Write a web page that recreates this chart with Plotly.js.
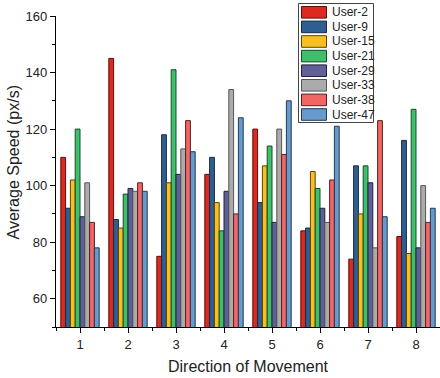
<!DOCTYPE html>
<html>
<head>
<meta charset="utf-8">
<script src="https://cdn.plot.ly/plotly-3.0.1.min.js"></script>
<style>html,body{margin:0;padding:0;background:#fff;}#chart{width:440px;height:378px;}</style>
</head>
<body>
<div id="chart"></div>
<script>
const directions = [1, 2, 3, 4, 5, 6, 7, 8];
const users = ["User-2", "User-9", "User-15", "User-21", "User-29", "User-33", "User-38", "User-47"];
const user2  = [110, 145, 75, 104, 120, 84, 74, 82];
const user9  = [92, 88, 118, 110, 94, 85, 107, 116];
const user15 = [102, 85, 101, 94, 107, 105, 90, 76];
const user21 = [120, 97, 141, 84, 114, 99, 107, 127];
const user29 = [89, 99, 104, 98, 87, 92, 101, 78];
const user33 = [101, 98, 113, 134, 120, 87, 78, 100];
const user38 = [87, 101, 123, 90, 111, 102, 123, 87];
const user47 = [78, 98, 112, 124, 130, 121, 89, 92];
const seriesValues = [user2, user9, user15, user21, user29, user33, user38, user47];
const fillColors = ["#dc2a20", "#2f5f92", "#f8bf22", "#3fbf6c", "#605f98", "#ababab", "#f26565", "#6699cc"];
const lineColors = ["#5a1010", "#152a42", "#5a4508", "#154a28", "#22223a", "#555555", "#5a2020", "#223a55"];

const traces = users.map((name, i) => ({
  type: "bar",
  name: name,
  x: directions,
  y: seriesValues[i],
  marker: {color: fillColors[i], line: {color: lineColors[i], width: 1}},
  showlegend: false,
  hoverinfo: "x+y+name"
}));

const FONT = "Liberation Sans, Arial, sans-serif";
const shapes = [];
const annotations = [];
const W = 440, H = 378, L = 56, R = 0, T = 16, B = 51;
const pw = W - L - R, ph = H - T - B;
function px2x(px) { return (px - L) / pw; }
function py2y(py) { return 1 - (py - T) / ph; }

// boxed legend with wide swatches
shapes.push({type: "rect", xref: "paper", yref: "paper",
  x0: px2x(298.5), x1: px2x(373.5), y0: py2y(122.5), y1: py2y(3.5),
  line: {color: "#444", width: 1}, fillcolor: "#fff", layer: "above"});
users.forEach((name, i) => {
  const cy = 12.3 + i * 14.6;
  shapes.push({type: "rect", xref: "paper", yref: "paper",
    x0: px2x(301.5), x1: px2x(326.5), y0: py2y(cy + 5.8), y1: py2y(cy - 5.8),
    fillcolor: fillColors[i], line: {color: lineColors[i], width: 1}, layer: "above"});
  annotations.push({xref: "paper", yref: "paper", x: px2x(329.5), y: py2y(cy),
    xanchor: "left", yanchor: "middle", text: name, showarrow: false,
    font: {family: FONT, size: 12, color: "#222"}});
});

// axis titles
annotations.push({xref: "paper", yref: "paper", x: px2x(248.5), y: py2y(366),
  xanchor: "center", yanchor: "middle", text: "Direction of Movement", showarrow: false,
  font: {family: FONT, size: 16, color: "#222"}});
annotations.push({xref: "paper", yref: "paper", x: px2x(13.5), y: py2y(163),
  xanchor: "center", yanchor: "middle", textangle: -90, text: "Average Speed (px/s)", showarrow: false,
  font: {family: FONT, size: 16, color: "#222"}});

const layout = {
  width: W, height: H,
  margin: {l: L, r: R, t: T, b: B, pad: 0},
  paper_bgcolor: "#fff", plot_bgcolor: "#fff",
  font: {family: FONT, size: 13, color: "#222"},
  barmode: "group", bargap: 0.2, bargroupgap: 0,
  showlegend: false,
  xaxis: {
    range: [0.5, 8.5], tickvals: directions, ticktext: directions.map(String),
    showline: true, linecolor: "#000", linewidth: 1.2, showgrid: false, zeroline: false,
    ticks: "outside", ticklen: 5, tickwidth: 1, tickcolor: "#000",
    minor: {tick0: 0.5, dtick: 1, ticks: "outside", ticklen: 3, tickwidth: 1, tickcolor: "#000", showgrid: false},
    tickfont: {size: 13, color: "#222"},
    automargin: false, fixedrange: true
  },
  yaxis: {
    range: [50, 160], tick0: 0, dtick: 20,
    showline: true, linecolor: "#000", linewidth: 1.2, showgrid: false, zeroline: false,
    ticks: "outside", ticklen: 5, tickwidth: 1, tickcolor: "#000",
    minor: {tick0: 0, dtick: 10, ticks: "outside", ticklen: 3, tickwidth: 1, tickcolor: "#000", showgrid: false},
    tickfont: {size: 13, color: "#222"},
    automargin: false, fixedrange: true
  },
  shapes: shapes,
  annotations: annotations
};

Plotly.newPlot("chart", traces, layout, {displayModeBar: false, staticPlot: true});
</script>
</body>
</html>
